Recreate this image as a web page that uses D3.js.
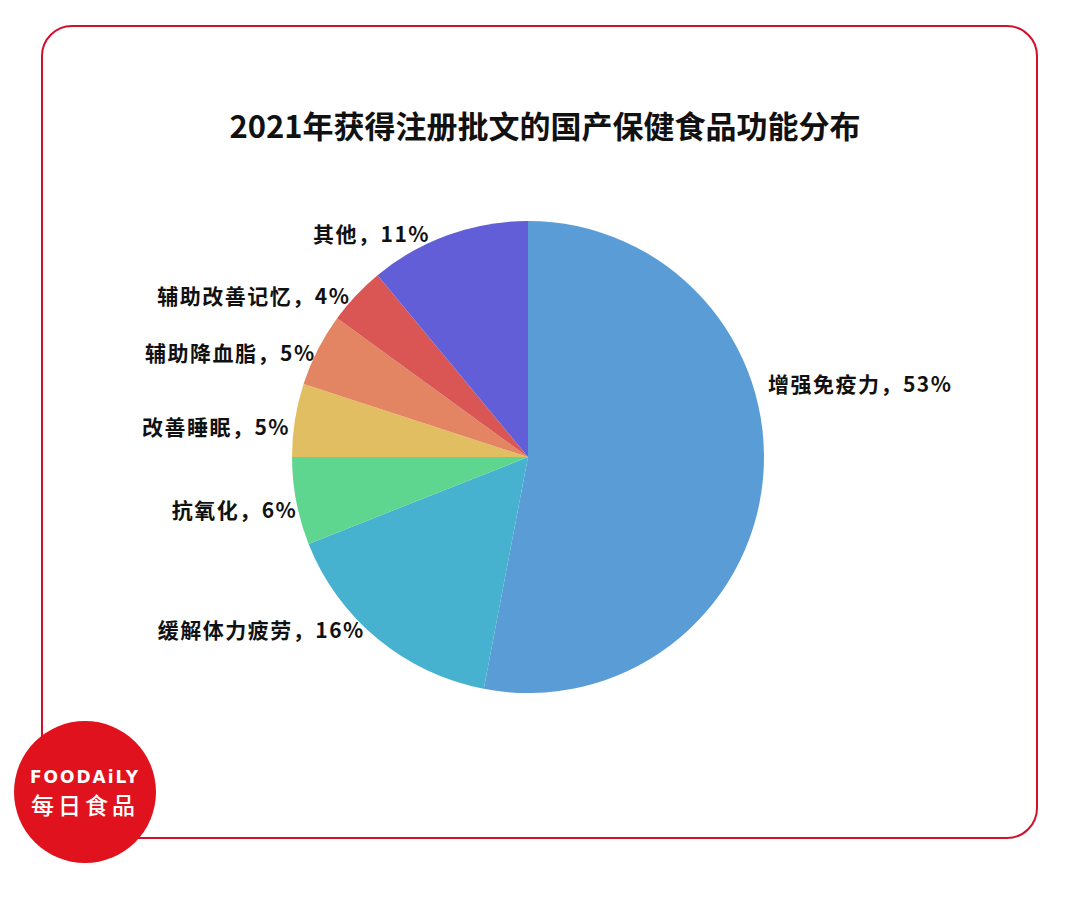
<!DOCTYPE html>
<html>
<head>
<meta charset="utf-8">
<script src="https://cdn.jsdelivr.net/npm/d3@7"></script>
<style>
  body { margin: 0; background: #fff; }
  svg { display: block; }
  text { font-family: "Noto Sans CJK SC", "Noto Sans", sans-serif; fill: #111; }
</style>
</head>
<body>
<svg id="canvas" width="1080" height="897"></svg>
<script>
// chart data
const title = "2021年获得注册批文的国产保健食品功能分布";
const categories = ["增强免疫力", "缓解体力疲劳", "抗氧化", "改善睡眠", "辅助降血脂", "辅助改善记忆", "其他"];
const shares = [53, 16, 6, 5, 5, 4, 11];
const sliceColors = ["#5a9dd6", "#46b2cf", "#5fd68f", "#e2be62", "#e38563", "#d95654", "#625ed7"];

let width = 1080;
let height = 897;
let cx = 528, cy = 457, radius = 236;
let labelRadius = 245;

let svg = d3.select("#canvas");

//red rounded frame
svg.append("rect")
    .attr("x", 42).attr("y", 26)
    .attr("width", 995).attr("height", 812)
    .attr("rx", 30).attr("ry", 30)
    .attr("fill", "none")
    .attr("stroke", "#d0102c")
    .attr("stroke-width", 2);

//title
svg.append("text")
    .attr("x", 545).attr("y", 138)
    .attr("text-anchor", "middle")
    .style("font-size", "31px")
    .style("font-weight", 700)
    .text(title);

//pie layout, start at 12 o'clock going clockwise, keep data order
let pie = d3.pie().sort(null).value(d => d);
let arcs = pie(shares);
let arc = d3.arc().innerRadius(0).outerRadius(radius);

let g = svg.append("g").attr("transform", `translate(${cx},${cy})`);

g.selectAll("path")
    .data(arcs)
    .join("path")
    .attr("d", arc)
    .attr("fill", (d, i) => sliceColors[i]);

//labels sit just outside the slice, nudged like excel best fit
let labelNudgeX = [ -4, -7, 10, 4, 6, 1, -15 ];
let labelNudgeY = [ -95, -15, 8, 9, 8, 7, 8 ];
g.selectAll(".label")
    .data(arcs)
    .join("text")
    .attr("class", "label")
    .each(function(d, i) {
        let a = (d.startAngle + d.endAngle) / 2;
        let x = Math.sin(a) * labelRadius;
        let y = -Math.cos(a) * labelRadius;
        d3.select(this)
            .attr("x", x + labelNudgeX[i])
            .attr("y", y + labelNudgeY[i])
            .attr("dy", "0.35em")
            .attr("text-anchor", x > 0 ? "start" : "end");
    })
    .style("font-size", "21px")
    .style("font-weight", 700)
    .style("letter-spacing", "1.5px")
    .text((d, i) => categories[i] + "，" + shares[i] + "%");

//logo badge
let logo = svg.append("g").attr("transform", "translate(85,792)");
logo.append("circle").attr("r", 71).attr("fill", "#e0121d");
logo.append("text")
    .attr("y", -9)
    .attr("text-anchor", "middle")
    .style("fill", "#fff")
    .style("font-family", "'DejaVu Sans', sans-serif")
    .style("font-size", "17px")
    .style("font-weight", 700)
    .style("letter-spacing", "2px")
    .text("FOODAiLY");
logo.append("text")
    .attr("y", 22)
    .attr("text-anchor", "middle")
    .style("fill", "#fff")
    .style("font-size", "23px")
    .style("font-weight", 500)
    .style("letter-spacing", "4px")
    .text("每日食品");
</script>
</body>
</html>
